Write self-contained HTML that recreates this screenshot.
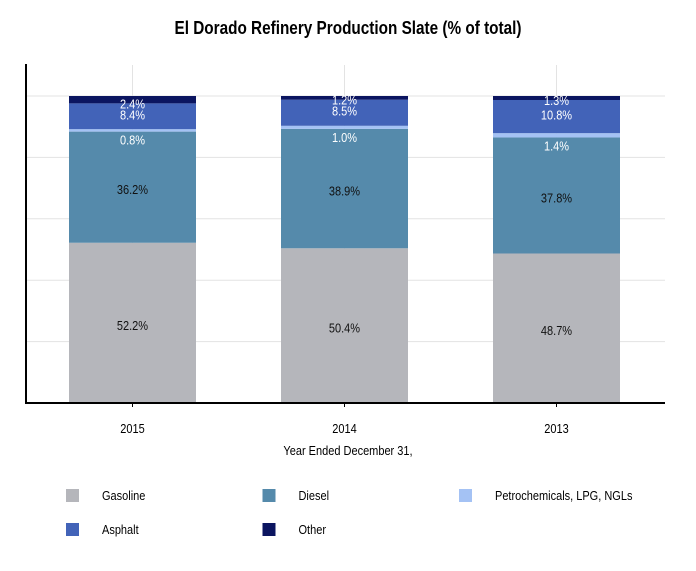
<!DOCTYPE html>
<html><head><meta charset="utf-8"><style>
body{margin:0;background:#fff;font-family:"Liberation Sans",sans-serif}
</style></head><body>
<svg id="c" width="696" height="566" xmlns="http://www.w3.org/2000/svg">
<text x="348" y="34" text-anchor="middle" font-size="18" font-weight="bold" textLength="347" lengthAdjust="spacingAndGlyphs">El Dorado Refinery Production Slate (% of total)</text>
<g id="grid"></g><g id="bars"></g><g id="axes"></g><g id="legend"></g>
</svg>
<script>
const categories=["2015","2014","2013"];
const gasoline=[52.2,50.4,48.7];
const diesel=[36.2,38.9,37.8];
const petro=[0.8,1.0,1.4];
const asphalt=[8.4,8.5,10.8];
const other=[2.4,1.2,1.3];
const seriesNames=["Gasoline","Diesel","Petrochemicals, LPG, NGLs","Asphalt","Other"];
const colors=["#b5b6bb","#558aab","#a4c2f4","#4263b8","#0b1560"];
const ns="http://www.w3.org/2000/svg";
const x0=26,x1=665,yb=403,yt=96,step=212,bw=127;
const y=v=>yb-(yb-yt)*v/100;
const xc=i=>132.5+i*step;
function mk(t,a,p){const e=document.createElementNS(ns,t);for(const k in a)e.setAttribute(k,a[k]);p.appendChild(e);return e;}
function txt(x,yy,s,size,col,p){const t=mk('text',{x:x,y:yy,'text-anchor':'middle','font-size':size,fill:col,transform:`translate(${x},0) scale(0.88,1) translate(${-x},0)`},p);t.textContent=s;return t;}
const grid=document.getElementById('grid'),bars=document.getElementById('bars'),axes=document.getElementById('axes'),leg=document.getElementById('legend');
[20,40,60,80,100].forEach(v=>{const l=mk('line',{x1:x0,x2:x1,y1:y(v),y2:y(v),stroke:'#e3e3e3'},grid);

});
categories.forEach((c,i)=>{const l=mk('line',{x1:xc(i),x2:xc(i),y1:65,y2:yb,stroke:'#e3e3e3'},grid);

});
const series=[gasoline,diesel,petro,asphalt,other];
categories.forEach((c,i)=>{let cum=0;
series.forEach((s,k)=>{const v=s[i];const top=y(cum+v),bot=y(cum);
const r=mk('rect',{x:xc(i)-bw/2,y:top,width:bw,height:bot-top,fill:colors[k]},bars);


let ly=(top+bot)/2+7, col='#111';
if(k==2){ly=bot+13;col='#fff';}
if(k==3){ly=(top+bot)/2+3;col='#fff';}
if(k==4){ly=bot+5;col='#fff';}
const t=txt(xc(i),ly,v.toFixed(1)+'%',12.5,col,bars);


cum+=v;});
const tl=txt(xc(i),433,c,12.5,'#000',axes);


const tk=mk('line',{x1:xc(i),x2:xc(i),y1:yb,y2:yb+4,stroke:'#000'},axes);

});
const ax=mk('line',{x1:x0,x2:x0,y1:64,y2:yb+1,stroke:'#000','stroke-width':2},axes);


const bx=mk('line',{x1:x0,x2:x1,y1:yb,y2:yb,stroke:'#000','stroke-width':2},axes);


const xt=txt(348,455,'Year Ended December 31,',12.5,'#000',axes);


seriesNames.forEach((n,k)=>{const col=k%3,row=Math.floor(k/3);const lx=66+col*196.5,ly=496+row*34;
const g=mk('g',{},leg);


mk('rect',{x:lx,y:ly-7,width:13,height:13,fill:colors[k]},g);
const t=mk('text',{x:lx+36,y:ly+4,'font-size':12.5,transform:`translate(${lx+36},0) scale(0.88,1) translate(${-(lx+36)},0)`},g);t.textContent=n;});
</script>
</body></html>
